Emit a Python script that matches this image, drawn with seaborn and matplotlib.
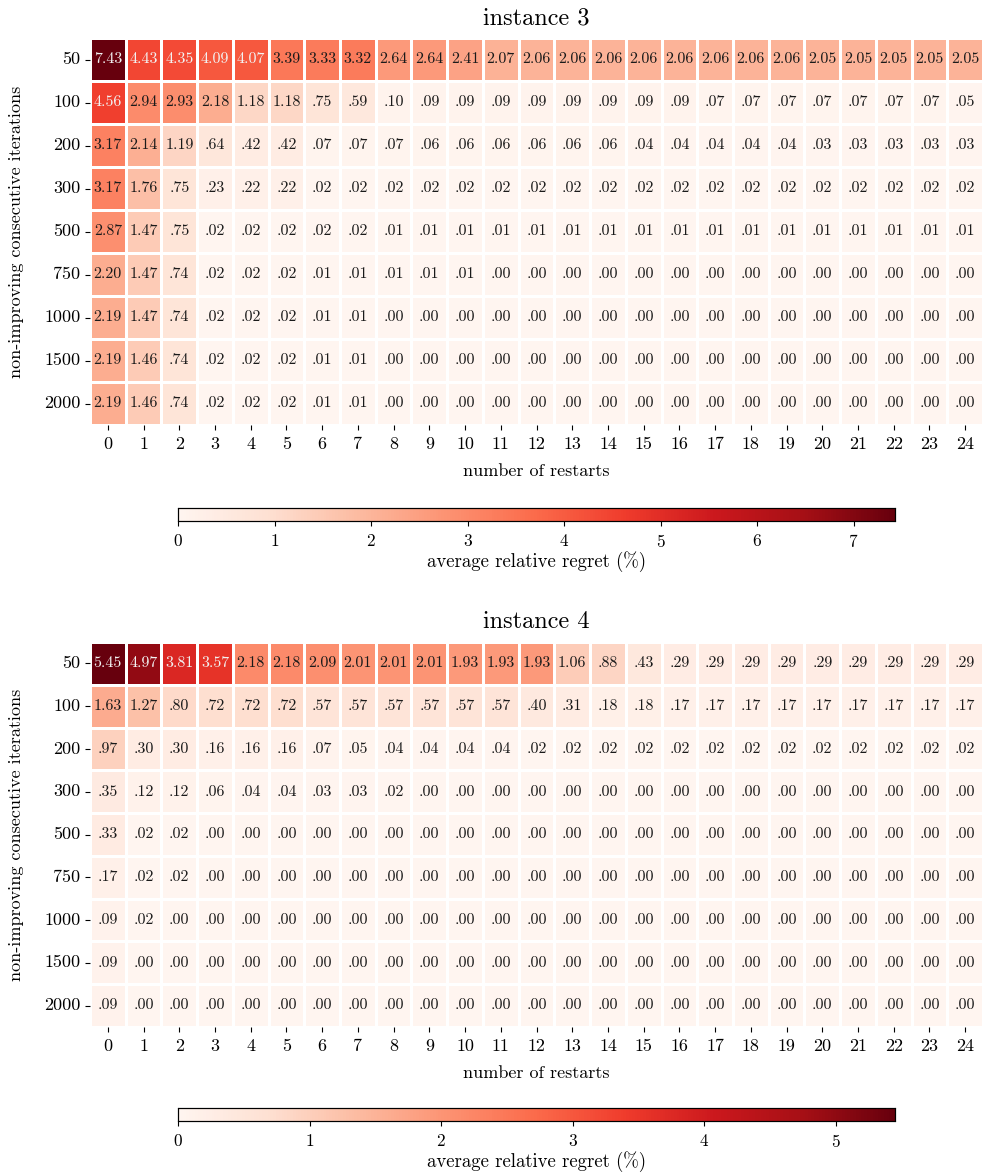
import numpy as np
import pandas as pd
import matplotlib
matplotlib.use("Agg")
import matplotlib.pyplot as plt
import seaborn as sns

plt.rcParams["font.family"] = ["cmr10", "DejaVu Serif"]
plt.rcParams["mathtext.fontset"] = "cm"
plt.rcParams["axes.unicode_minus"] = False
plt.rcParams["axes.formatter.use_mathtext"] = True

iterations = [50, 100, 200, 300, 500, 750, 1000, 1500, 2000]
restarts = list(range(25))

instance3 = [
    [7.43, 4.43, 4.35, 4.09, 4.07, 3.39, 3.33, 3.32, 2.64, 2.64, 2.41, 2.07, 2.06, 2.06, 2.06, 2.06, 2.06, 2.06, 2.06, 2.06, 2.05, 2.05, 2.05, 2.05, 2.05],
    [4.56, 2.94, 2.93, 2.18, 1.18, 1.18, .75, .59, .10, .09, .09, .09, .09, .09, .09, .09, .09, .07, .07, .07, .07, .07, .07, .07, .05],
    [3.17, 2.14, 1.19, .64, .42, .42, .07, .07, .07, .06, .06, .06, .06, .06, .06, .04, .04, .04, .04, .04, .03, .03, .03, .03, .03],
    [3.17, 1.76, .75, .23, .22, .22, .02, .02, .02, .02, .02, .02, .02, .02, .02, .02, .02, .02, .02, .02, .02, .02, .02, .02, .02],
    [2.87, 1.47, .75, .02, .02, .02, .02, .02, .01, .01, .01, .01, .01, .01, .01, .01, .01, .01, .01, .01, .01, .01, .01, .01, .01],
    [2.20, 1.47, .74, .02, .02, .02, .01, .01, .01, .01, .01, .00, .00, .00, .00, .00, .00, .00, .00, .00, .00, .00, .00, .00, .00],
    [2.19, 1.47, .74, .02, .02, .02, .01, .01, .00, .00, .00, .00, .00, .00, .00, .00, .00, .00, .00, .00, .00, .00, .00, .00, .00],
    [2.19, 1.46, .74, .02, .02, .02, .01, .01, .00, .00, .00, .00, .00, .00, .00, .00, .00, .00, .00, .00, .00, .00, .00, .00, .00],
    [2.19, 1.46, .74, .02, .02, .02, .01, .01, .00, .00, .00, .00, .00, .00, .00, .00, .00, .00, .00, .00, .00, .00, .00, .00, .00],
]

instance4 = [
    [5.45, 4.97, 3.81, 3.57, 2.18, 2.18, 2.09, 2.01, 2.01, 2.01, 1.93, 1.93, 1.93, 1.06, .88, .43, .29, .29, .29, .29, .29, .29, .29, .29, .29],
    [1.63, 1.27, .80, .72, .72, .72, .57, .57, .57, .57, .57, .57, .40, .31, .18, .18, .17, .17, .17, .17, .17, .17, .17, .17, .17],
    [.97, .30, .30, .16, .16, .16, .07, .05, .04, .04, .04, .04, .02, .02, .02, .02, .02, .02, .02, .02, .02, .02, .02, .02, .02],
    [.35, .12, .12, .06, .04, .04, .03, .03, .02, .00, .00, .00, .00, .00, .00, .00, .00, .00, .00, .00, .00, .00, .00, .00, .00],
    [.33, .02, .02, .00, .00, .00, .00, .00, .00, .00, .00, .00, .00, .00, .00, .00, .00, .00, .00, .00, .00, .00, .00, .00, .00],
    [.17, .02, .02, .00, .00, .00, .00, .00, .00, .00, .00, .00, .00, .00, .00, .00, .00, .00, .00, .00, .00, .00, .00, .00, .00],
    [.09, .02, .00, .00, .00, .00, .00, .00, .00, .00, .00, .00, .00, .00, .00, .00, .00, .00, .00, .00, .00, .00, .00, .00, .00],
    [.09, .00, .00, .00, .00, .00, .00, .00, .00, .00, .00, .00, .00, .00, .00, .00, .00, .00, .00, .00, .00, .00, .00, .00, .00],
    [.09, .00, .00, .00, .00, .00, .00, .00, .00, .00, .00, .00, .00, .00, .00, .00, .00, .00, .00, .00, .00, .00, .00, .00, .00],
]

panels = [("instance 3", instance3), ("instance 4", instance4)]


def short_label(v):
    s = f"{v:.2f}"
    return s[1:] if s.startswith("0") else s


W, H = 985, 1176
fig = plt.figure(figsize=(W / 100, H / 100), dpi=100)

# (heatmap top, heatmap bottom, colorbar top, colorbar bottom) in pixels
layout = [(38, 425, 508, 521), (642, 1027, 1108, 1121)]
left_px, right_px = 90, 983
cb_left, cb_right = 178, 895

for (title, values), (ht, hb, ct, cbm) in zip(panels, layout):
    df = pd.DataFrame(values, index=iterations, columns=restarts)
    labels = np.vectorize(short_label)(df.values)
    vmax = df.values.max()
    ax = fig.add_axes([left_px / W, 1 - hb / H, (right_px - left_px) / W, (hb - ht) / H])
    cax = fig.add_axes([cb_left / W, 1 - cbm / H, (cb_right - cb_left) / W, (cbm - ct) / H])
    sns.heatmap(
        df, ax=ax, cbar_ax=cax, cmap="Reds", vmin=0, vmax=vmax,
        annot=labels, fmt="", annot_kws={"size": 11.5},
        linewidths=2, linecolor="white",
        cbar_kws={"orientation": "horizontal",
                  "label": "average relative regret (%)"},
    )
    # light text on the darkest cells, dark text elsewhere
    for txt, v in zip(ax.texts, df.values.ravel()):
        txt.set_color("#f2f2f2" if v / vmax > 0.5 else "#1a1a1a")
    ax.set_title(title, fontsize=17.5, pad=10)
    ax.set_xlabel("number of restarts", fontsize=13, labelpad=8)
    ax.set_ylabel("non-improving consecutive iterations", fontsize=13, labelpad=14)
    ax.tick_params(axis="both", labelsize=13)
    ax.tick_params(axis="x", pad=5)
    ax.set_yticklabels(ax.get_yticklabels(), rotation=0)
    ax.set_xticklabels(ax.get_xticklabels(), rotation=0)
    cax.tick_params(labelsize=12.5, pad=5)
    cax.xaxis.label.set_size(13.5)
    cax.xaxis.labelpad = 1
    for s in cax.spines.values():
        s.set_visible(True)
        s.set_linewidth(0.8)
        s.set_edgecolor("black")

fig.savefig("out.png", dpi=100)
